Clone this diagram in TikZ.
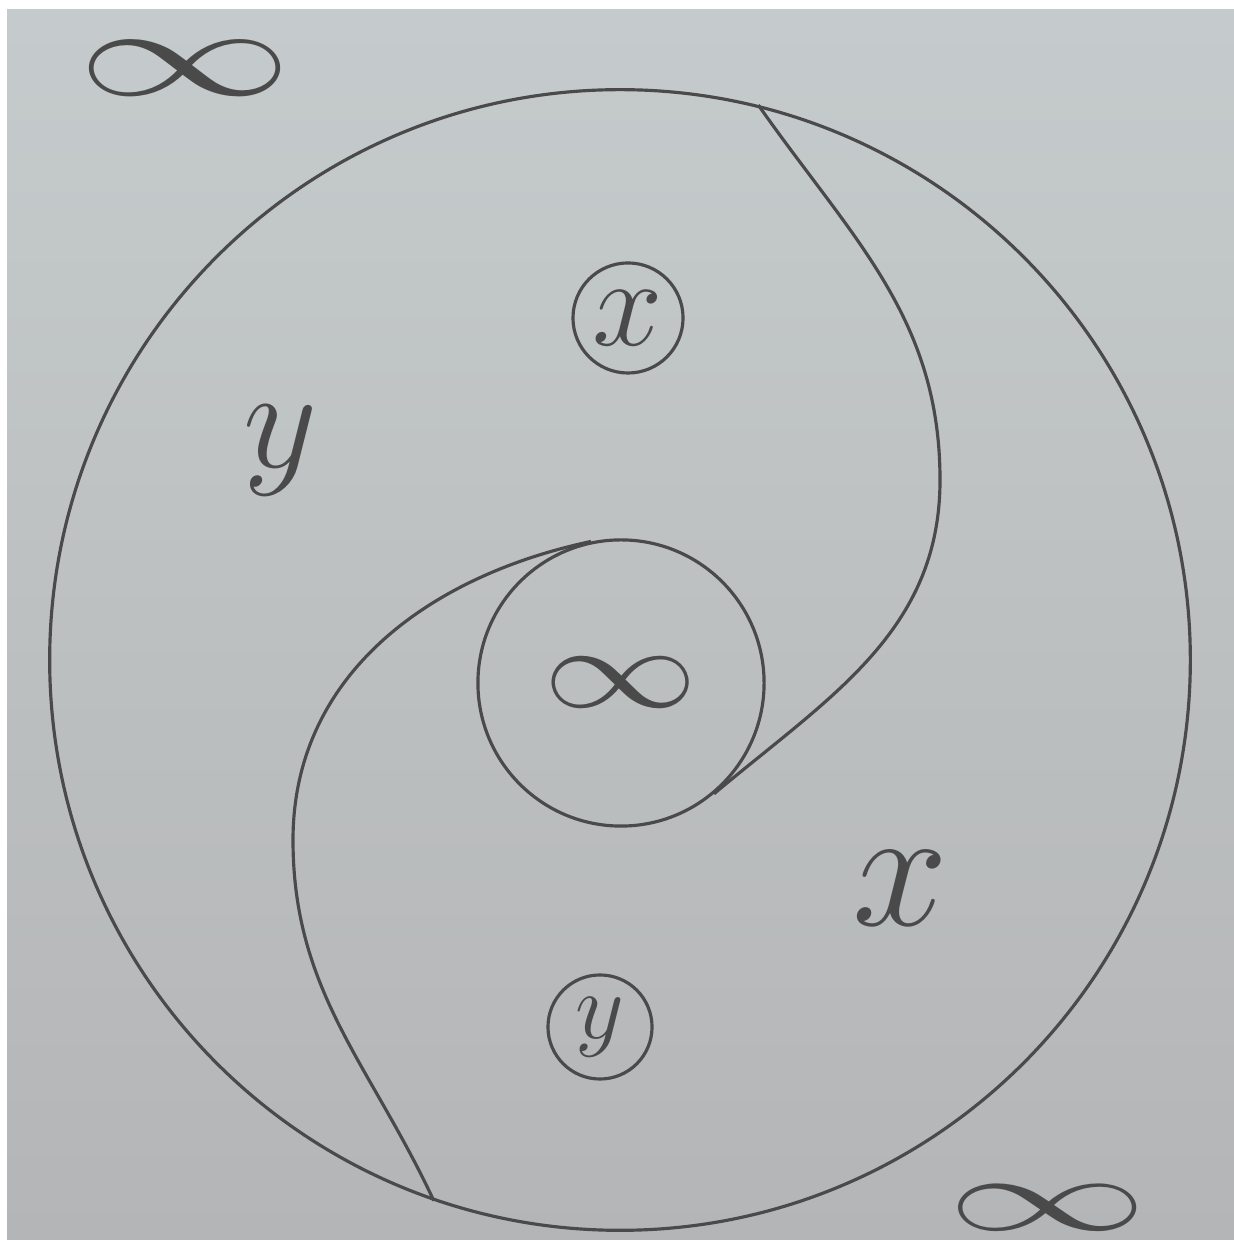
\RequirePackage{fix-cm}
\documentclass[tikz,border=0pt]{standalone}
\usetikzlibrary{calc,positioning}
\definecolor{paperwhite}{HTML}{FFFFFF}
\definecolor{papertop}{HTML}{C5CBCC}
\definecolor{papermid}{HTML}{C8CACC}
\definecolor{paperlow}{HTML}{B4B5B6}
\definecolor{pencil}{HTML}{4A4A4A}

\begin{document}
\begin{tikzpicture}[x=.01cm,y=.01cm,
  pen/.style={draw=pencil,line width=.9pt},
  ring/.style={pen,circle,inner sep=0pt,text=pencil},
  glyph/.style={text=pencil,inner sep=0pt}]
\useasboundingbox (0,0) rectangle (1234,1240);
\path[fill=paperwhite] (0,0) rectangle (1234,1240);
\shade[top color=papertop,middle color=papermid,bottom color=paperlow] (7,0) rectangle (1234,1230);
% outer disc and central eye
\node[ring,minimum size=11.4cm] (rim) at (620,580) {};
\node[ring,minimum size=2.86cm,font=\fontsize{33}{33}\selectfont] (core) at (621,557) {\scalebox{1.33}[1]{$\infty$}};
% the two S-shaped dividers
\draw[pen] (rim.76) to[out=-55,in=90] (940,760) to[out=-90,in=40] (core.-50);
\draw[pen] (core.102) to[out=192,in=90] (293,400) to[out=-90,in=115] (rim.251.7);
% small circled letters
\node[ring,minimum size=1.1cm,font=\fontsize{36}{36}\selectfont] (xdot) at (628,922) {$x$};
\node[ring,minimum size=1.04cm,font=\fontsize{27}{27}\selectfont] (ydot) at (600,213) {$y$};
% loose letters
\node[glyph,font=\fontsize{41}{41}\selectfont] (ylab) at (280,790) {$y$};
\node[glyph,font=\fontsize{49}{49}\selectfont] (xlab) at (900,352) {$x$};
% corner infinities
\node[glyph,font=\fontsize{36}{36}\selectfont] (inftl) at (185,1172) {\scalebox{1.7}[1]{$\infty$}};
\node[glyph,font=\fontsize{30}{30}\selectfont] (infbr) at (1048,32) {\scalebox{1.9}[1]{$\infty$}};
\end{tikzpicture}
\end{document}
